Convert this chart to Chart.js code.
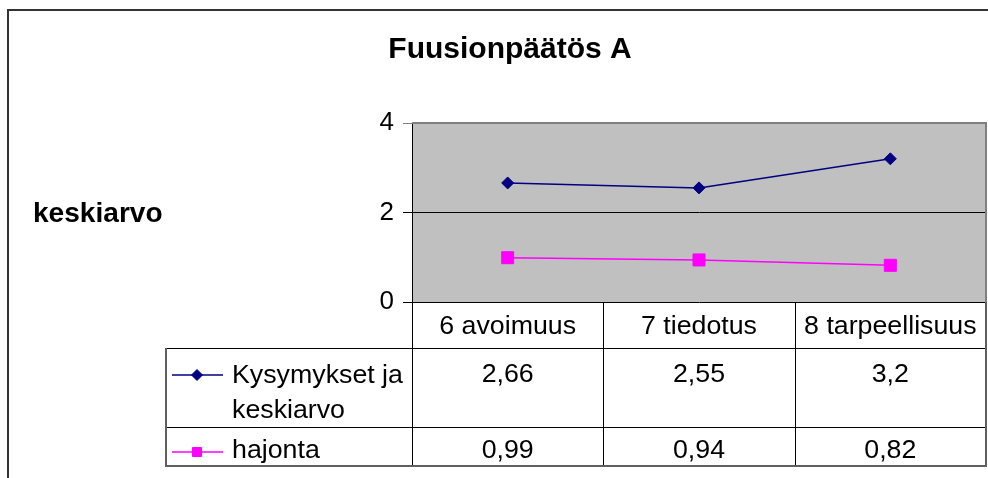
<!DOCTYPE html>
<html>
<head>
<meta charset="utf-8">
<script src="https://cdn.jsdelivr.net/npm/chart.js@4.4.1/dist/chart.umd.min.js"></script>
<style>
  html, body { margin: 0; padding: 0; background: #ffffff; overflow: hidden; }
  #wrap { width: 988px; height: 478px; position: relative; }
</style>
</head>
<body>
<div id="wrap"><canvas id="c" width="988" height="478"></canvas></div>
<script>
const chartTitle = 'Fuusionpäätös A';
const yAxisTitle = 'keskiarvo';
const categories = ['6 avoimuus', '7 tiedotus', '8 tarpeellisuus'];
const meanName = ['Kysymykset ja', 'keskiarvo'];
const spreadName = ['hajonta'];
const meanValues = [2.66, 2.55, 3.2];
const spreadValues = [0.99, 0.94, 0.82];
const yTickValues = [0, 2, 4];

const FONT = '"Liberation Sans", Arial, Helvetica, sans-serif';
const fmt = v => String(v).replace('.', ',');

function drawMarker(ctx, style, x, y, r, color) {
  ctx.save();
  ctx.fillStyle = color;
  ctx.strokeStyle = color;
  ctx.lineWidth = 1;
  ctx.beginPath();
  if (style === 'rectRot') {
    ctx.moveTo(x - r, y); ctx.lineTo(x, y - r); ctx.lineTo(x + r, y); ctx.lineTo(x, y + r);
    ctx.closePath();
  } else {
    ctx.rect(x - r, y - r, 2 * r, 2 * r);
  }
  ctx.fill();
  ctx.stroke();
  ctx.restore();
}

// text with slight horizontal stretch, like the reference rendering
function wideText(ctx, text, x, y, sx) {
  ctx.save();
  ctx.translate(x, y);
  ctx.scale(sx, 1);
  ctx.fillText(text, 0, 0);
  ctx.restore();
}

const tablePlugin = {
  id: 'tablePlugin',
  beforeDraw(chart) {
    const ctx = chart.ctx;
    const a = chart.chartArea;
    ctx.save();
    ctx.fillStyle = '#ffffff';
    ctx.fillRect(0, 0, chart.width, chart.height);
    ctx.strokeStyle = '#333333';
    ctx.lineWidth = 2;
    ctx.beginPath();
    ctx.moveTo(8, 500); ctx.lineTo(8, 10); ctx.lineTo(1000, 10);
    ctx.stroke();
    ctx.fillStyle = '#c0c0c0';
    ctx.fillRect(a.left, a.top, a.right - a.left, a.bottom - a.top);
    ctx.restore();
  },
  afterDraw(chart) {
    const ctx = chart.ctx;
    const a = chart.chartArea;
    const xs = chart.scales.x;
    ctx.save();
    ctx.strokeStyle = '#808080';
    ctx.lineWidth = 2;
    ctx.beginPath();
    ctx.moveTo(a.left, a.top); ctx.lineTo(a.right, a.top); ctx.lineTo(a.right, a.bottom);
    ctx.stroke();

    ctx.fillStyle = '#000';
    ctx.textAlign = 'center';
    ctx.textBaseline = 'alphabetic';
    ctx.font = 'bold 30px ' + FONT;
    ctx.fillText(chartTitle, 510, 58);
    ctx.textAlign = 'left';
    ctx.font = 'bold 27px ' + FONT;
    wideText(ctx, yAxisTitle, 33, 222, 1.04);

    const n = categories.length;
    const bounds = [a.left];
    for (let i = 1; i < n; i++) {
      bounds.push((xs.getPixelForValue(i - 1) + xs.getPixelForValue(i)) / 2);
    }
    bounds.push(a.right);
    const headTop = a.bottom, headBot = 348, r1Bot = 427, r2Bot = 466, legLeft = 166;

    ctx.strokeStyle = '#000';
    ctx.lineWidth = 1;
    ctx.beginPath();
    ctx.moveTo(legLeft, headBot + 0.5); ctx.lineTo(a.right, headBot + 0.5);
    ctx.moveTo(legLeft, r1Bot + 0.5); ctx.lineTo(a.right, r1Bot + 0.5);
    for (let i = 0; i < n; i++) {
      const x = Math.round(bounds[i]) + 0.5;
      ctx.moveTo(x, headTop); ctx.lineTo(x, r2Bot);
    }
    ctx.stroke();
    ctx.strokeStyle = '#606060';
    ctx.lineWidth = 2;
    ctx.beginPath();
    ctx.moveTo(legLeft, headBot); ctx.lineTo(legLeft, r2Bot); ctx.lineTo(a.right, r2Bot); ctx.lineTo(a.right, headTop);
    ctx.stroke();

    ctx.fillStyle = '#000';
    ctx.font = '25px ' + FONT;
    ctx.textAlign = 'center';
    const SX = 1.07;
    for (let i = 0; i < n; i++) {
      const cx = xs.getPixelForValue(i);
      wideText(ctx, categories[i], cx, 334, SX);
      wideText(ctx, fmt(meanValues[i]), cx, 382, SX);
      wideText(ctx, fmt(spreadValues[i]), cx, 458, SX);
    }
    ctx.textAlign = 'left';
    wideText(ctx, meanName[0], 232, 383, SX);
    wideText(ctx, meanName[1], 232, 418, SX);
    wideText(ctx, spreadName[0], 232, 458, SX);

    ctx.lineWidth = 1.5;
    ctx.strokeStyle = '#000080';
    ctx.beginPath(); ctx.moveTo(172, 375); ctx.lineTo(223, 375); ctx.stroke();
    drawMarker(ctx, 'rectRot', 197, 375, 5.5, '#000080');
    ctx.strokeStyle = '#ff00ff';
    ctx.beginPath(); ctx.moveTo(172, 452); ctx.lineTo(223, 452); ctx.stroke();
    drawMarker(ctx, 'rect', 197, 452, 4.5, '#ff00ff');
    ctx.restore();
  }
};

new Chart(document.getElementById('c'), {
  type: 'line',
  data: {
    labels: categories,
    datasets: [
      {
        label: meanName.join(' '),
        data: meanValues,
        borderColor: '#000080',
        backgroundColor: '#000080',
        borderWidth: 1.5,
        pointStyle: 'rectRot',
        pointRadius: 6,
        pointBorderWidth: 1,
        tension: 0
      },
      {
        label: spreadName[0],
        data: spreadValues,
        borderColor: '#ff00ff',
        backgroundColor: '#ff00ff',
        borderWidth: 1.5,
        pointStyle: 'rect',
        pointRadius: 8.5,
        pointBorderWidth: 1,
        tension: 0
      }
    ]
  },
  options: {
    responsive: false,
    animation: false,
    devicePixelRatio: 1,
    layout: { autoPadding: false, padding: { left: 352, right: 2, top: 123, bottom: 176 } },
    plugins: {
      legend: { display: false },
      title: { display: false },
      tooltip: { enabled: false }
    },
    scales: {
      x: { type: 'category', offset: true, display: false },
      y: {
        min: 0, max: 4,
        afterFit(scale) { scale.width = 60; },
        afterBuildTicks(scale) { scale.ticks = yTickValues.map(v => ({ value: v })); },
        ticks: {
          color: '#000',
          padding: 9,
          font: { family: FONT, size: 26 },
          callback: v => fmt(v)
        },
        grid: {
          color: ctx => (ctx.tick && ctx.tick.value === 4) ? '#808080' : '#000',
          lineWidth: 1,
          tickLength: 9,
          drawOnChartArea: true,
          drawTicks: true
        },
        border: { display: true, color: '#000', width: 1 }
      }
    }
  },
  plugins: [tablePlugin]
});
</script>
</body>
</html>
